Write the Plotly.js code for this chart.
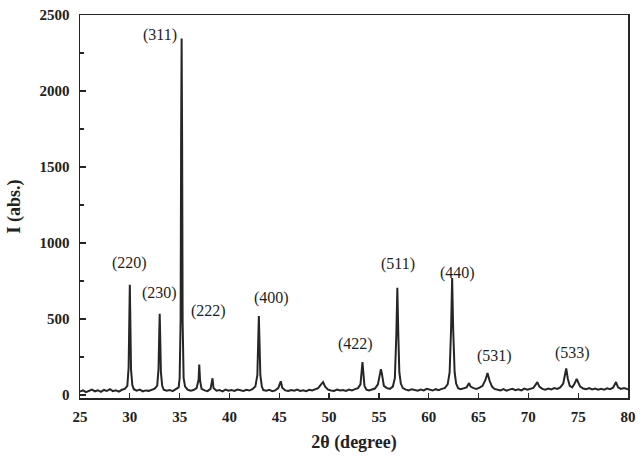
<!DOCTYPE html>
<html>
<head>
<meta charset="utf-8">
<script src="https://cdn.plot.ly/plotly-3.0.1.min.js"></script>
<style>html,body{margin:0;padding:0;background:#fff;}#chart{width:642px;height:465px;}</style>
</head>
<body>
<div id="chart"></div>
<script>
// XRD pattern (2θ in degrees, intensity in counts)
const twoTheta = [
25.0,25.3,25.6,25.9,26.2,26.5,26.8,27.1,27.4,27.7,28.0,28.3,28.6,28.9,29.2,29.5,
29.75,29.88,29.95,30.0,30.05,30.12,30.25,30.4,
30.7,31.0,31.3,31.6,31.9,32.2,32.5,
32.75,32.88,32.95,33.0,33.05,33.12,33.25,33.4,
33.7,34.0,34.3,34.6,34.9,
35.0,35.1,35.15,35.2,35.25,35.3,35.4,35.55,
35.8,36.1,36.4,36.7,
36.9,36.97,37.05,37.2,
37.5,37.8,38.1,38.3,38.4,38.7,39.0,39.3,39.6,39.9,40.2,40.5,40.8,41.1,41.4,41.7,42.0,42.3,42.6,
42.8,42.9,42.95,43.0,43.1,43.25,43.4,
43.7,44.0,44.3,44.6,44.9,45.15,45.3,45.6,45.9,46.2,46.5,46.8,47.1,47.4,47.7,48.0,48.3,48.6,48.9,49.2,49.4,49.6,49.9,50.2,50.5,50.8,51.1,51.4,51.7,52.0,52.3,52.6,52.9,
53.15,53.28,53.35,53.42,53.55,53.75,
54.0,54.3,54.6,54.9,55.1,55.2,55.3,55.5,55.8,56.1,56.4,
56.6,56.75,56.85,56.95,57.05,57.2,57.4,
57.7,58.0,58.3,58.6,58.9,59.2,59.5,59.8,60.1,60.4,60.7,61.0,61.3,61.6,61.9,
62.1,62.25,62.35,62.45,62.6,62.75,62.95,
63.2,63.5,63.8,64.05,64.2,64.5,64.8,65.1,65.4,65.7,65.9,66.1,66.35,66.6,
66.9,67.2,67.5,67.8,68.1,68.4,68.7,69.0,69.3,69.6,69.9,70.2,70.5,70.75,70.9,71.1,71.4,
71.7,72.0,72.3,72.6,72.9,73.2,73.5,
73.65,73.8,73.95,74.15,74.4,74.6,74.85,75.0,75.2,75.5,
75.8,76.1,76.4,76.7,77.0,77.3,77.6,77.9,78.2,78.5,78.8,79.0,79.3,79.6,80.0
];
const intensity = [
22,30,18,28,35,24,31,20,33,26,38,25,30,22,34,40,
60,180,520,725,500,170,65,38,
28,35,24,30,27,36,42,
62,170,400,535,380,150,60,35,
28,33,25,38,50,
110,500,1700,2345,1650,480,110,55,
35,28,32,45,
100,200,95,40,
30,25,40,110,45,28,33,24,35,28,32,26,36,30,27,34,29,38,55,
130,400,520,390,130,55,32,
28,34,25,30,45,90,48,30,26,33,28,36,27,31,25,34,30,38,45,70,85,55,35,30,27,36,29,33,26,35,30,38,45,
70,170,217,160,60,35,
30,36,42,70,150,170,140,60,45,40,55,
110,400,705,390,150,75,45,
35,30,38,33,28,36,30,40,34,29,38,32,40,45,70,
150,450,770,440,150,75,45,
38,42,50,78,55,45,40,48,60,100,145,95,55,40,
35,30,38,28,35,40,31,37,30,42,35,40,46,70,85,55,40,
34,42,36,45,40,50,75,
120,175,110,60,50,70,105,80,55,42,
38,45,36,42,34,40,35,44,38,48,85,50,40,45,38
];
// Miller-index labels and their positions
const peakLabels = ["(220)","(230)","(311)","(222)","(400)","(422)","(511)","(440)","(531)","(533)"];
const labelX = [30.0, 33.0, 33.05, 37.9, 44.2, 52.7, 56.9, 62.9, 66.6, 74.4];
const labelY = [868, 671, 2368, 553, 638, 335, 862, 803, 257, 276];
const xTicks = [25,30,35,40,45,50,55,60,65,70,75,80];
const yTicks = [0,500,1000,1500,2000,2500];

const serif = "Liberation Serif, Times New Roman, serif";
const ink = "#262626";

const trace = {
  x: twoTheta, y: intensity, type: "scatter", mode: "lines",
  line: {color: ink, width: 2}, hoverinfo: "skip"
};

const annotations = peakLabels.map((t, i) => ({
  x: labelX[i], y: labelY[i], xref: "x", yref: "y", text: t,
  showarrow: false, font: {family: serif, size: 16, color: "#1e1e1e"}
}));

const layout = {
  width: 642, height: 465,
  margin: {l: 80, r: 14, t: 15, b: 67},
  paper_bgcolor: "#fff", plot_bgcolor: "#fff",
  showlegend: false,
  xaxis: {
    range: [25, 80], tickvals: xTicks, ticktext: xTicks.map(String),
    ticks: "inside", ticklen: 5, tickwidth: 1.3, tickcolor: ink,
    showline: true, linecolor: ink, linewidth: 1.5, mirror: true,
    showgrid: false, zeroline: false,
    tickfont: {family: serif, size: 15, color: "#222", weight: "bold"},
    ticklabelstandoff: 4,
    title: {text: "2θ (degree)", font: {family: serif, size: 18, color: "#222", weight: "bold"}, standoff: 12}
  },
  yaxis: {
    range: [-20, 2500], tickvals: yTicks, ticktext: yTicks.map(String),
    ticks: "inside", ticklen: 6, tickwidth: 1.3, tickcolor: ink,
    minor: {dtick: 250, ticks: "inside", ticklen: 4, tickcolor: ink, showgrid: false},
    showline: true, linecolor: ink, linewidth: 1.5, mirror: true,
    showgrid: false, zeroline: false,
    tickfont: {family: serif, size: 15, color: "#222", weight: "bold"},
    ticklabelstandoff: 6,
    title: {text: "I (abs.)", font: {family: serif, size: 18, color: "#222", weight: "bold"}, standoff: 14}
  },
  annotations: annotations
};

Plotly.newPlot("chart", [trace], layout, {displayModeBar: false, staticPlot: true});
</script>
</body>
</html>
